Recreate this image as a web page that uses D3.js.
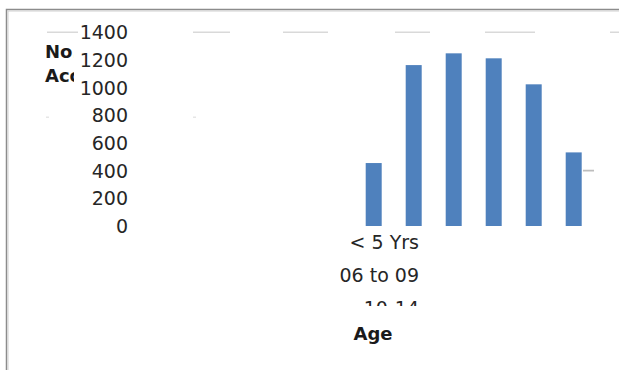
<!DOCTYPE html>
<html>
<head>
<meta charset="utf-8">
<script src="https://cdn.jsdelivr.net/npm/d3@7"></script>
<style>
  html, body { margin: 0; padding: 0; background: #fff; }
  svg { display: block; }
</style>
</head>
<body>
<script>
// Road accidents by age group
const categories = ["< 5 Yrs", "06 to 09", "10-14", "15-19", "20-24", "25-29"];
const accidents = [455, 1163, 1248, 1212, 1024, 532];
const yTicks = [0, 200, 400, 600, 800, 1000, 1200, 1400];
const yTitleLines = ["No. of", "Accidents"];
const xTitle = "Age";

const W = 619, H = 370;
const svg = d3.select("body").append("svg")
  .attr("width", W).attr("height", H)
  .style("font-family", "'DejaVu Sans', sans-serif");

svg.append("rect").attr("width", W).attr("height", H).attr("fill", "#fff");

const defs = svg.append("defs");
defs.append("clipPath").attr("id", "ytitle-clip")
  .append("rect").attr("x", 0).attr("y", 0).attr("width", 74).attr("height", 120);
defs.append("clipPath").attr("id", "xlabel-clip")
  .append("rect").attr("x", 300).attr("y", 228).attr("width", 200).attr("height", 78);

const y = d3.scaleLinear().domain([0, 1400]).range([226, 32.3]);
const x = d3.scaleBand().domain(categories).range([353.7, 593.7])
  .paddingInner(0.6).paddingOuter(0.3);

// Broken horizontal gridlines (only fragments are painted)
const grid = svg.append("g").attr("stroke", "#d9d9d9").attr("stroke-width", 1.6);
grid.append("line")
  .attr("x1", 47).attr("x2", W).attr("y1", y(1400)).attr("y2", y(1400))
  .attr("stroke-dasharray", "31,115,37,53,45,67,35,55,50,75,9");
grid.append("line")
  .attr("x1", 46).attr("x2", W).attr("y1", y(800) + 2).attr("y2", y(800) + 2)
  .attr("stroke", "#e6e6e6")
  .attr("stroke-dasharray", "3,144,3,1000");
grid.append("line")
  .attr("x1", 47).attr("x2", W).attr("y1", y(400)).attr("y2", y(400))
  .attr("stroke", "#bdbdbd")
  .attr("stroke-dasharray", "0,536,11,100");

// Y-axis tick labels
const yAxis = d3.axisLeft(y).tickValues(yTicks).tickSize(0).tickPadding(0)
  .tickFormat(d3.format("d"));
const yg = svg.append("g").attr("transform", "translate(128,0)").call(yAxis);
yg.select(".domain").remove();
yg.selectAll("text")
  .attr("font-family", "'DejaVu Sans', sans-serif")
  .attr("font-size", 19).attr("fill", "#262626").attr("dy", "0.35em");

// Y-axis title, cut off by the tick labels
svg.append("g").attr("clip-path", "url(#ytitle-clip)")
  .selectAll("text").data(yTitleLines).join("text")
  .attr("x", 45).attr("y", (d, i) => 58 + i * 24)
  .attr("font-size", 18).attr("font-weight", "bold").attr("fill", "#1a1a1a")
  .text(d => d);

// Bars
svg.append("g").selectAll("rect").data(accidents).join("rect")
  .attr("x", (d, i) => x(categories[i]))
  .attr("width", x.bandwidth())
  .attr("y", d => y(d))
  .attr("height", d => y(0) - y(d))
  .attr("fill", "#4f81bd");

// Category labels stacked under the plot
svg.append("g").attr("clip-path", "url(#xlabel-clip)")
  .selectAll("text").data(categories.slice(0, 3)).join("text")
  .attr("x", 419).attr("y", (d, i) => 249 + i * 33)
  .attr("text-anchor", "end")
  .attr("font-size", 19).attr("fill", "#262626")
  .text(d => d);

// X-axis title
svg.append("text")
  .attr("x", 373).attr("y", 340).attr("text-anchor", "middle")
  .attr("font-size", 18).attr("font-weight", "bold").attr("fill", "#1a1a1a")
  .text(xTitle);

// Chart frame (top and left edges visible)
const frame = svg.append("g").attr("fill", "none");
frame.append("path").attr("d", `M6.5,${H} V9.5 H${W}`)
  .attr("stroke", "#8c8c8c").attr("stroke-width", 1.5);
frame.append("path").attr("d", `M8,${H} V11 H${W}`)
  .attr("stroke", "#d0d0d0").attr("stroke-width", 1);
</script>
</body>
</html>
